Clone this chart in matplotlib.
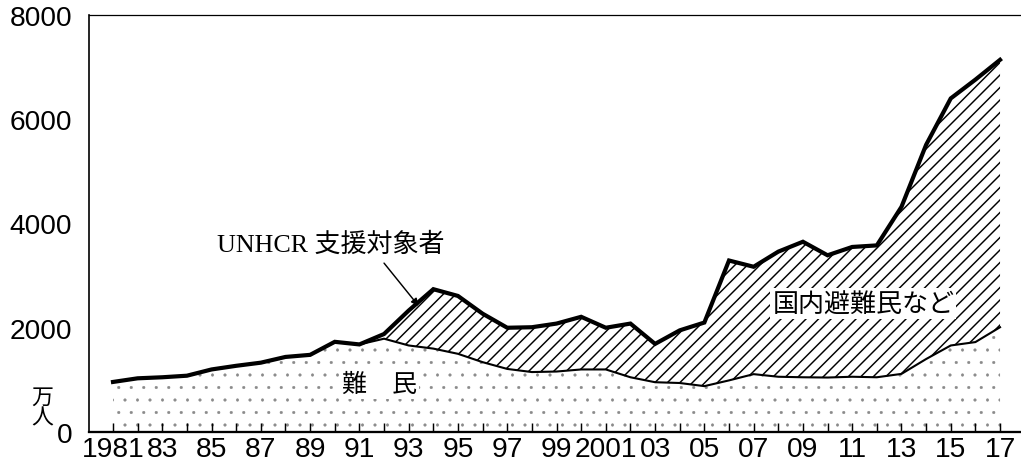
import numpy as np
import matplotlib
matplotlib.use('Agg')
import matplotlib.pyplot as plt
from matplotlib import font_manager

# 年次 1981〜2017
years = np.arange(1981, 2018)
# UNHCR 支援対象者 (万人)
total = [960, 1030, 1050, 1080, 1200, 1270, 1330, 1440, 1480, 1730,
         1680, 1880, 2330, 2740, 2610, 2270, 2000, 2010, 2080, 2210,
         2000, 2080, 1690, 1950, 2100, 3290, 3170, 3460, 3650, 3390,
         3550, 3580, 4320, 5510, 6400, 6760, 7140]
# 難民 (万人)
refugees = [960, 1030, 1050, 1080, 1200, 1270, 1330, 1440, 1480, 1730,
            1680, 1790, 1660, 1600, 1500, 1340, 1210, 1150, 1160, 1200,
            1200, 1050, 955, 940, 880, 990, 1110, 1060, 1050, 1045,
            1060, 1050, 1115, 1400, 1660, 1725, 2010]
tick_labels = ['1981' if y == 1981 else '2001' if y == 2001 else
               (f'{y % 100:02d}' if y % 2 == 1 else '') for y in years]

W, H, DPI = 1021, 466, 150
plt.rcParams['font.family'] = ['Liberation Sans', 'DejaVu Sans']
jp = ['Noto Sans CJK JP', 'DejaVu Sans']
names = {f.name for f in font_manager.fontManager.ttflist}
narrow = 'Liberation Sans Narrow' if 'Liberation Sans Narrow' in names else 'Liberation Sans'

fig = plt.figure(figsize=(W / DPI, H / DPI), dpi=DPI)
ax = fig.add_axes([89 / W, 1 - 433 / H, (1020 - 89) / W, (433 - 16) / H])

x0 = 1981 - (113 - 89) / 24.64
x1 = 1981 + (1020 - 113) / 24.64
ax.set_xlim(x0, x1)
ax.set_ylim(0, 8000)

# 難民: 点描
with plt.rc_context({'hatch.color': '#8a8a8a', 'hatch.linewidth': 0.25}):
    ax.fill_between(years, 0, refugees, facecolor='white', edgecolor='#8a8a8a',
                    hatch='..', linewidth=0, zorder=1)
# 国内避難民など: 斜線
with plt.rc_context({'hatch.color': 'black', 'hatch.linewidth': 0.7}):
    ax.fill_between(years, refugees, total, facecolor='white', edgecolor='black',
                    hatch='////', linewidth=0, zorder=1)

ax.plot(years, refugees, color='black', lw=1.0, zorder=3)
ax.plot(years, total, color='black', lw=2.0, solid_joinstyle='miter', zorder=4)

ax.text(1991.8, 920, '難　民', family=jp, fontsize=12, ha='center', va='center',
        zorder=5, bbox=dict(facecolor='white', edgecolor='none', pad=1))
ax.text(2011.45, 2460, '国内避難民など', family=jp, fontsize=12.5, ha='center',
        va='center', zorder=5,
        bbox=dict(facecolor='white', edgecolor='none', pad=1))
ax.annotate('', xy=(1993.4, 2420), xytext=(1992.0, 3240),
            arrowprops=dict(arrowstyle='-|>', color='black', lw=0.7,
                            mutation_scale=7, shrinkA=0, shrinkB=0), zorder=5)
ax.text(1989.85, 3620, 'UNHCR 支援対象者', family=['Liberation Serif', 'Noto Sans CJK JP'],
        fontsize=12.5, ha='center', va='center', zorder=5)

# 軸
ax.spines['right'].set_visible(False)
ax.spines['top'].set_linewidth(0.6)
ax.spines['left'].set_linewidth(0.8)
ax.spines['bottom'].set_linewidth(1.1)

ax.set_xticks(years)
ax.set_xticklabels(tick_labels)
ax.tick_params(axis='x', direction='in', length=4.3, width=0.7, pad=2,
               labelsize=13.5)
for lbl in ax.get_xticklabels():
    if lbl.get_text() in ('1981', '2001'):
        lbl.set_family(narrow)

ax.set_yticks([0, 2000, 4000, 6000, 8000])
ax.tick_params(axis='y', direction='in', length=3.4, width=0.7, pad=8,
               labelsize=13.5, right=True)
for t in ax.yaxis.get_major_ticks():
    if t.get_loc() in (0, 8000):
        t.tick1line.set_visible(False)
        t.tick2line.set_visible(False)

# 単位: 万人 (縦書き)
fig.text(42 / W, 1 - 408 / H, '万\n人', family=jp, fontsize=10.5, ha='center',
         va='center', linespacing=0.95)

fig.savefig('out.png', dpi=DPI)
